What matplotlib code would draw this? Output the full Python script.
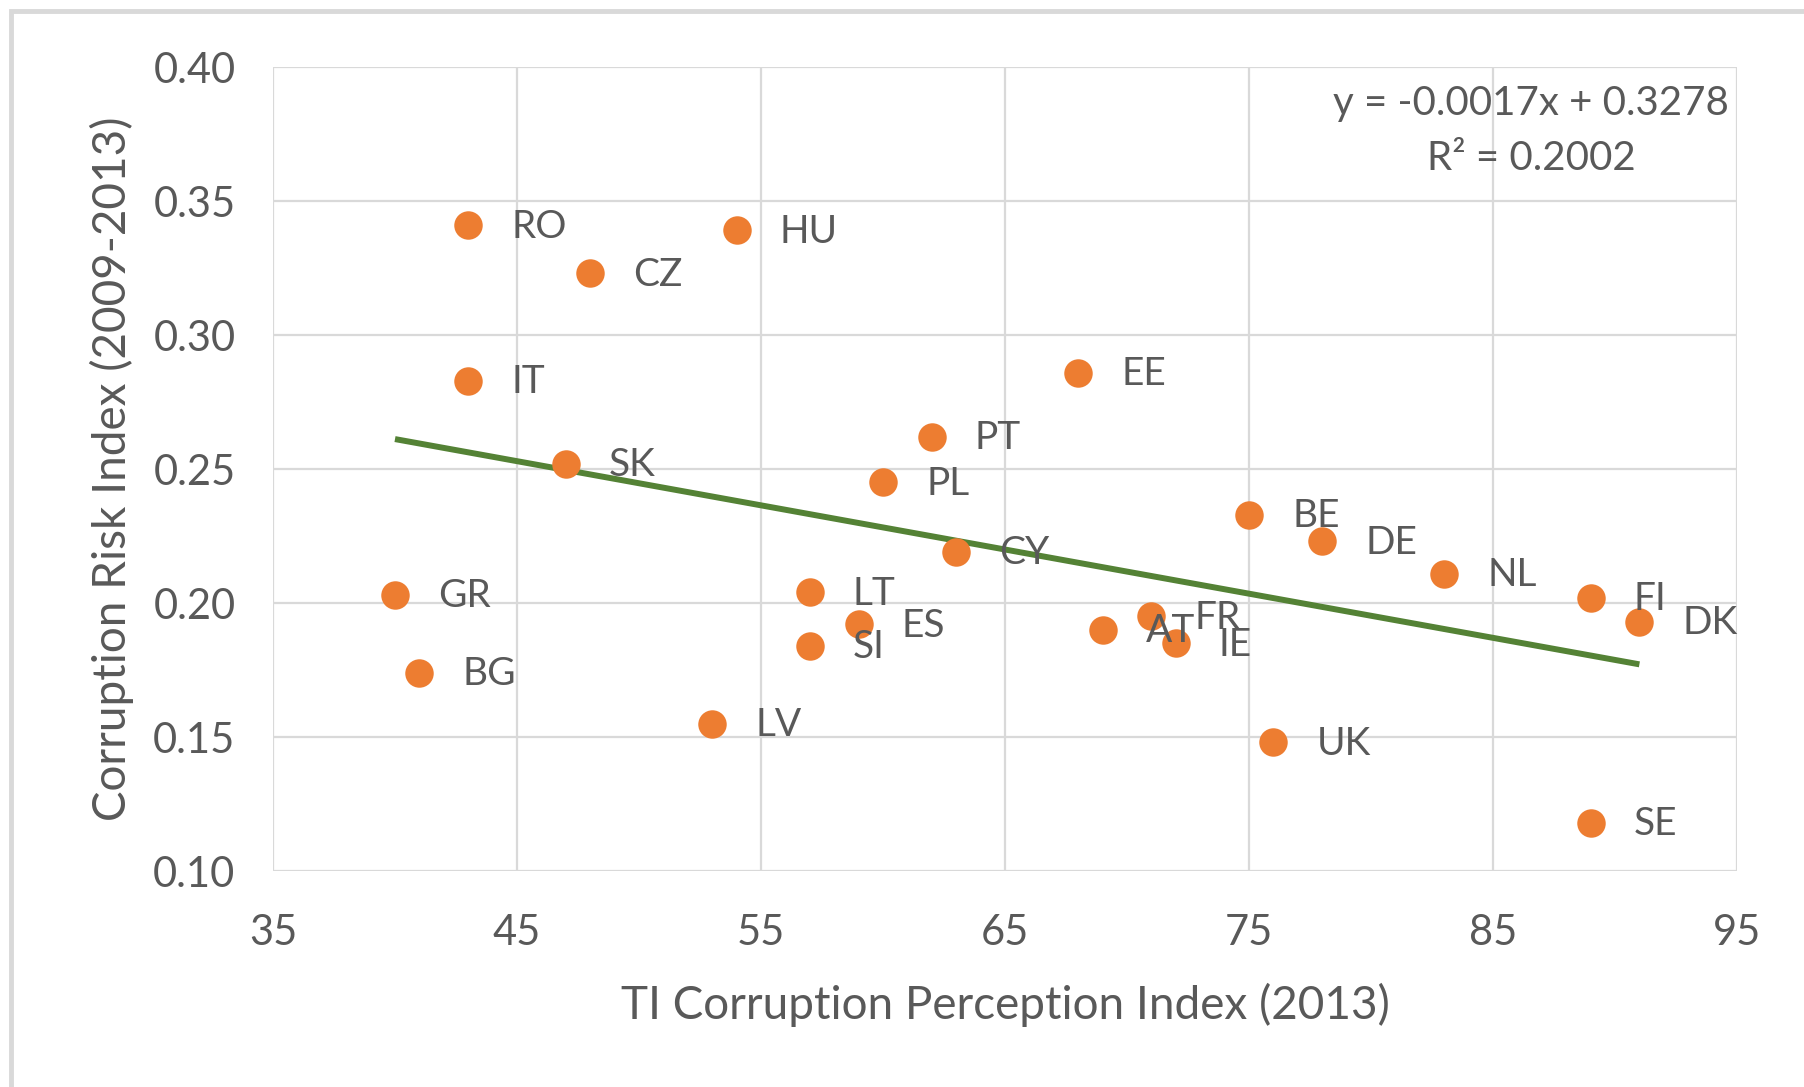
import numpy as np
import matplotlib.pyplot as plt
from matplotlib.patches import Rectangle

plt.rcParams['font.family'] = ['Lato', 'DejaVu Sans']

# countries, TI CPI 2013 vs corruption risk index 2009-2013
countries = ['RO', 'HU', 'CZ', 'IT', 'EE', 'PT', 'SK', 'PL', 'BE', 'DE', 'CY', 'NL',
             'GR', 'LT', 'FI', 'DK', 'ES', 'FR', 'AT', 'IE', 'SI', 'BG', 'LV', 'UK', 'SE']
cpi = [43, 54, 48, 43, 68, 62, 47, 60, 75, 78, 63, 83,
       40, 57, 89, 91, 59, 71, 69, 72, 57, 41, 53, 76, 89]
cri = [0.341, 0.339, 0.323, 0.283, 0.286, 0.262, 0.252, 0.245, 0.233, 0.223, 0.219, 0.211,
       0.203, 0.204, 0.202, 0.193, 0.192, 0.195, 0.190, 0.185, 0.184, 0.174, 0.155, 0.148, 0.118]

# trend equation text as shown on the chart
eq_text = 'y = -0.0017x + 0.3278'
r2_text = 'R² = 0.2002'

W, H = 1804, 1087
fig = plt.figure(figsize=(W / 100, H / 100), dpi=100)
ax = fig.add_axes([273 / W, 1 - 871 / H, (1737 - 273) / W, (871 - 67) / H])

grey = '#595959'
ax.scatter(cpi, cri, s=420, color='#ED7D31', zorder=3, linewidths=0)

# least squares trend line over the data range
slope, intercept = np.polyfit(cpi, cri, 1)
xs = np.array([min(cpi), max(cpi)])
ax.plot(xs, slope * xs + intercept, color='#548235', lw=4.3, zorder=2,
        solid_capstyle='butt')

for c, x, y in zip(countries, cpi, cri):
    ax.annotate(c, (x, y), xytext=(31, -1), textcoords='offset points',
                va='center', ha='left', fontsize=28, color=grey, zorder=4)

ax.set_xlim(35, 95)
ax.set_ylim(0.10, 0.40)
ax.set_xticks(range(35, 96, 10))
ax.set_yticks([0.10, 0.15, 0.20, 0.25, 0.30, 0.35, 0.40])
ax.set_yticklabels([f'{v:.2f}' for v in ax.get_yticks()])
ax.grid(True, color='#D9D9D9', lw=1.6, zorder=0)
ax.set_axisbelow(True)
for s in ax.spines.values():
    s.set_visible(False)
ax.tick_params(length=0, labelsize=30, labelcolor=grey, pad=27)
ax.tick_params(axis='x', pad=31)

ax.set_xlabel('TI Corruption Perception Index (2013)', fontsize=33, color=grey, labelpad=22)
ax.set_ylabel('Corruption Risk Index (2009-2013)', fontsize=33, color=grey, labelpad=14)

ax.text(1531 / W, 1 - 103 / H, eq_text, transform=fig.transFigure,
        ha='center', va='center', fontsize=29, color=grey)
ax.text(1531 / W, 1 - 158 / H, r2_text, transform=fig.transFigure,
        ha='center', va='center', fontsize=29, color=grey)

fig.patches.append(Rectangle((11 / W, -0.1), 1.2, 1 - 11 / H + 0.1, transform=fig.transFigure,
                             fill=False, edgecolor='#D9D9D9', lw=3.5))

fig.savefig('out.png', dpi=100, facecolor='white')
